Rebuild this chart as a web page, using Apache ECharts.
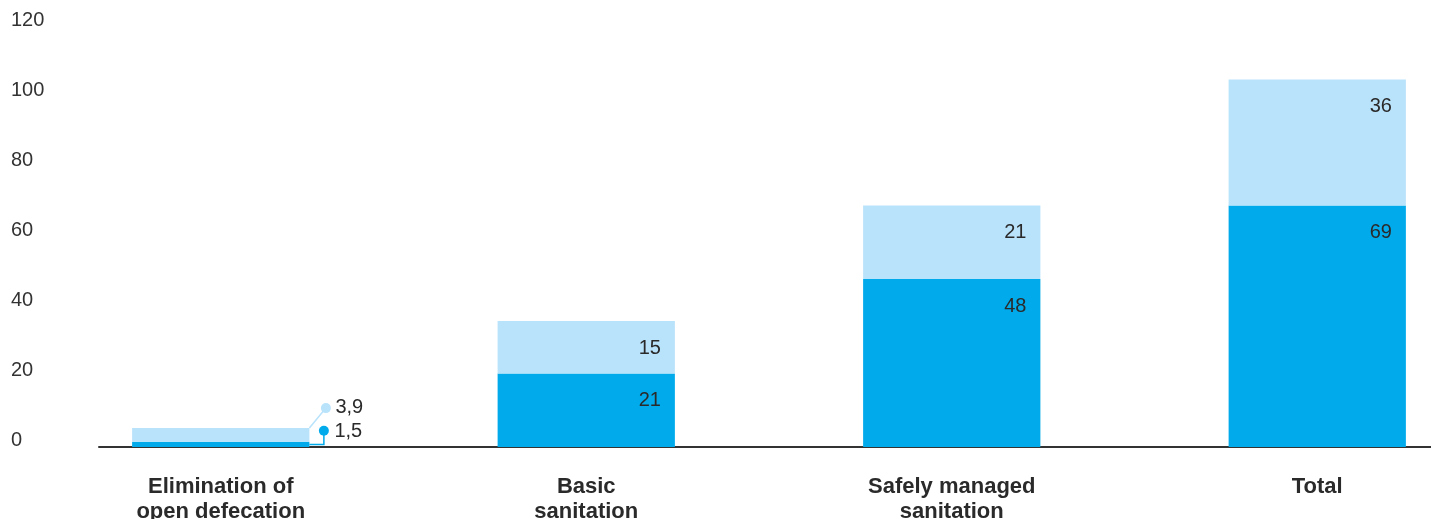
<!DOCTYPE html>
<html>
<head>
<meta charset="utf-8">
<script src="https://cdn.jsdelivr.net/npm/echarts@6/dist/echarts.min.js"></script>
<style>
html,body{margin:0;padding:0;background:#fff;}
#chart{width:1431px;height:519px;}
</style>
</head>
<body>
<div id="chart"></div>
<script>
// ---- data ----
const categories = ['Elimination of\nopen defecation', 'Basic\nsanitation', 'Safely managed\nsanitation', 'Total'];
const lowerValues = [1.5, 21, 48, 69];
const upperValues = [3.9, 15, 21, 36];
const yMin = 0, yMax = 120, yInterval = 20;
const annotatedIndex = 0; // category whose values are shown outside the bar

// ---- style ----
const DARK = '#00aaeb';
const LIGHT = '#b9e3fb';
const TEXT = '#2a2a2a';
const FONT = '"Liberation Sans", Arial, Helvetica, sans-serif';
const BAR_RATIO = 0.485;

const fmt = v => String(v).replace('.', ',');

function buildData(values) {
  return values.map((v, i) => i === annotatedIndex ? { value: v, label: { show: false } } : v);
}

const innerLabel = {
  show: true,
  position: 'insideTopRight',
  distance: 14,
  offset: [0, 3],
  color: TEXT,
  fontSize: 20,
  fontFamily: FONT,
  formatter: p => fmt(p.value)
};

const chart = echarts.init(document.getElementById('chart'), null, { renderer: 'canvas' });

chart.setOption({
  animation: false,
  backgroundColor: '#fff',
  grid: [
    { left: 38, width: 1462, top: 27, height: 420, containLabel: false, outerBoundsMode: 'none' },
    { left: 99, right: 0, top: 27, height: 420, containLabel: false, outerBoundsMode: 'none' }
  ],
  xAxis: [
    {
      type: 'category',
      gridIndex: 0,
      data: categories,
      axisLine: { show: false },
      axisTick: { show: false },
      axisLabel: {
        interval: 0,
        margin: 27,
        color: TEXT,
        fontSize: 22,
        fontWeight: 'bold',
        fontFamily: FONT,
        lineHeight: 25
      }
    },
    {
      type: 'value',
      gridIndex: 1,
      min: 0, max: 1,
      axisLine: { show: true, onZero: false, lineStyle: { color: '#333', width: 2 } },
      axisTick: { show: false },
      axisLabel: { show: false },
      splitLine: { show: false }
    }
  ],
  yAxis: [
    {
      type: 'value',
      gridIndex: 0,
      min: yMin, max: yMax, interval: yInterval,
      axisLine: { show: false },
      axisTick: { show: false },
      splitLine: { show: false },
      axisLabel: {
        align: 'left',
        margin: 27,
        color: '#333',
        fontSize: 20,
        fontFamily: FONT,
        verticalAlign: 'bottom',
        lineHeight: 13
      }
    },
    {
      type: 'value',
      gridIndex: 1,
      show: false,
      min: 0, max: 1
    }
  ],
  series: [
    {
      type: 'bar',
      name: 'lower',
      stack: 'total',
      xAxisIndex: 0, yAxisIndex: 0,
      barWidth: (BAR_RATIO * 100) + '%',
      itemStyle: { color: DARK },
      label: innerLabel,
      data: buildData(lowerValues)
    },
    {
      type: 'bar',
      name: 'upper',
      stack: 'total',
      xAxisIndex: 0, yAxisIndex: 0,
      barWidth: (BAR_RATIO * 100) + '%',
      itemStyle: { color: LIGHT },
      label: innerLabel,
      data: buildData(upperValues)
    },
    {
      type: 'custom',
      xAxisIndex: 0, yAxisIndex: 0,
      clip: false,
      z: 5,
      encode: { x: 0, y: 1 },
      data: [[annotatedIndex, lowerValues[annotatedIndex], upperValues[annotatedIndex]]],
      renderItem: function (params, api) {
        const idx = api.value(0);
        const low = api.value(1);
        const up = api.value(2);
        const base = api.coord([idx, 0]);
        const lowTop = api.coord([idx, low]);
        const upTop = api.coord([idx, low + up]);
        const band = api.size([1, 0])[0];
        const xr = base[0] + band * BAR_RATIO / 2;
        const darkY = (lowTop[1] + base[1]) / 2;
        const darkDot = [xr + 14.5, lowTop[1] - 11];
        const lightDot = [xr + 16.5, upTop[1] - 20];
        return {
          type: 'group',
          children: [
            { type: 'polyline', shape: { points: [[xr, darkY], [darkDot[0], darkY], darkDot] },
              style: { stroke: DARK, lineWidth: 1.5, fill: null } },
            { type: 'line', shape: { x1: xr, y1: upTop[1], x2: lightDot[0], y2: lightDot[1] },
              style: { stroke: LIGHT, lineWidth: 1.5 } },
            { type: 'circle', shape: { cx: darkDot[0], cy: darkDot[1], r: 5 }, style: { fill: DARK } },
            { type: 'circle', shape: { cx: lightDot[0], cy: lightDot[1], r: 5 }, style: { fill: LIGHT } },
            { type: 'text', style: { x: xr + 25, y: lowTop[1] - 10, text: fmt(low), fill: TEXT,
              font: '20px ' + FONT, textAlign: 'left', textVerticalAlign: 'middle', verticalAlign: 'middle' } },
            { type: 'text', style: { x: xr + 26, y: upTop[1] - 21, text: fmt(up), fill: TEXT,
              font: '20px ' + FONT, textAlign: 'left', textVerticalAlign: 'middle', verticalAlign: 'middle' } }
          ]
        };
      }
    }
  ]
});
</script>
</body>
</html>
